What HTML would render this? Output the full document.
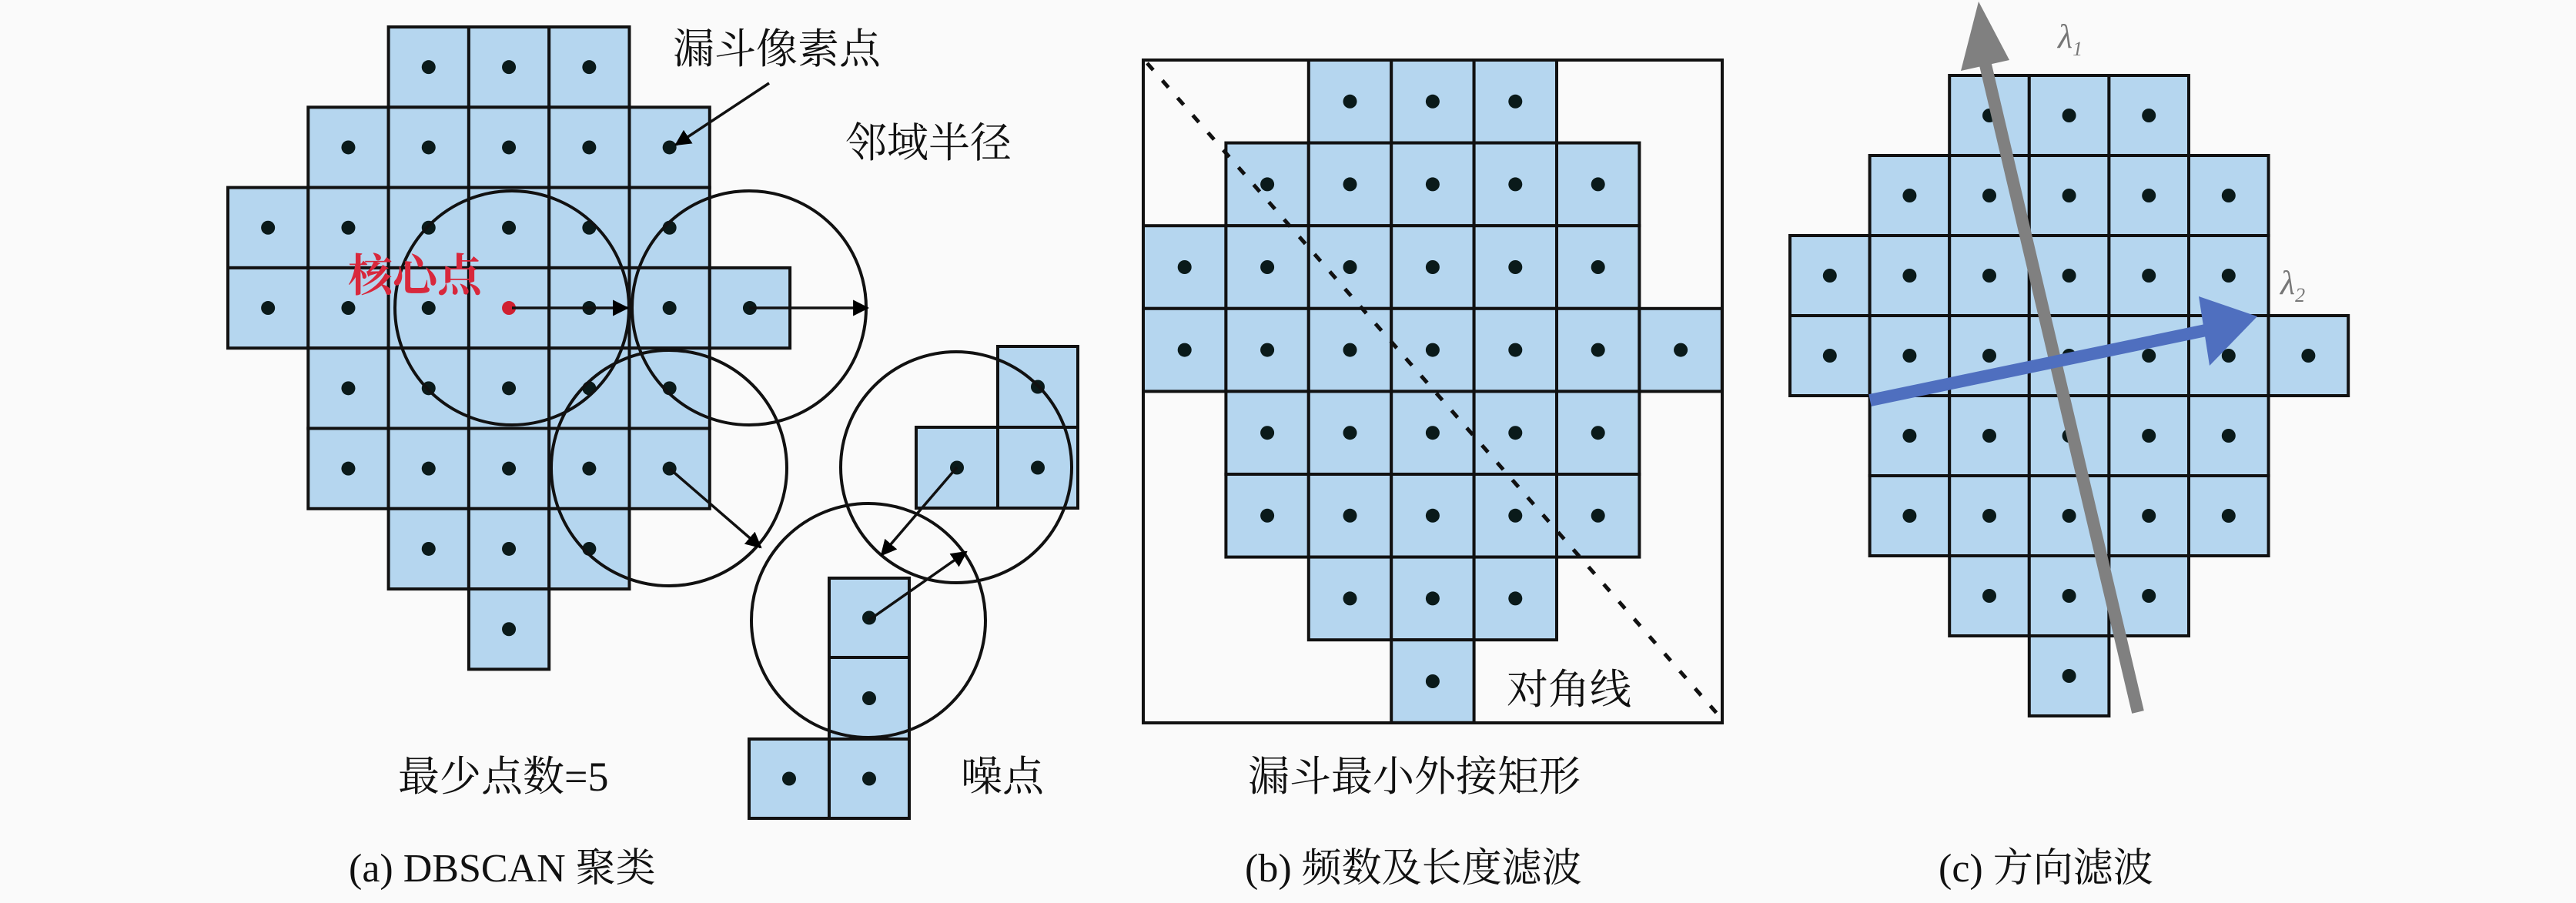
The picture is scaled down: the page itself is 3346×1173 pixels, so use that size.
<!DOCTYPE html>
<html><head><meta charset="utf-8"><style>
html,body{margin:0;padding:0;background:#fafafa;}
svg{display:block}
text{font-family:"Liberation Serif","Noto Serif CJK SC",serif;}
.cjk{font-family:"Noto Serif CJK SC","Liberation Serif",serif;}
</style></head><body>
<svg width="3346" height="1173" viewBox="0 0 3346 1173" xmlns="http://www.w3.org/2000/svg">
<defs>
<marker id="ah" viewBox="0 0 10 10" refX="9" refY="5" markerWidth="6" markerHeight="6" orient="auto"><path d="M0,0 L10,5 L0,10 z" fill="#000"/></marker>
</defs>
<rect width="3346" height="1173" fill="#fafafa"/>
<g id="cells" stroke="#111" stroke-width="4" fill="#b5d6ef"></g>
<g id="dots" fill="#0a1a1a"></g>
<g id="over"></g>
<script>
var NS="http://www.w3.org/2000/svg";
var cells=document.getElementById('cells'),dots=document.getElementById('dots'),over=document.getElementById('over');
var shape=[[2,4],[1,5],[0,5],[0,6],[1,5],[1,5],[2,4],[3,3]];
function el(p,t,a){var e=document.createElementNS(NS,t);for(var k in a)e.setAttribute(k,a[k]);p.appendChild(e);return e;}
function cell(x,y,w,h,red){el(cells,'rect',{x:x,y:y,width:w,height:h});el(dots,'circle',{cx:x+w/2,cy:y+h/2,r:9,fill:red?'#d02030':'#0a1a1a'});}
function grid(x0,y0,w,h,skipRed){for(var r=0;r<8;r++)for(var c=shape[r][0];c<=shape[r][1];c++)cell(x0+c*w,y0+r*h,w,h,skipRed&&r==3&&c==3);}
el(cells,'rect',{x:1485,y:78,width:752,height:861,fill:'none'});
grid(296,35,104.3,104.3,true);
grid(1485,78,107.4,107.6,false);
grid(2325,98,103.6,104,false);
cell(1296,450,104,105);cell(1190,555,106,105);cell(1296,555,104,105);
cell(1077,751,104,103);cell(1077,854,104,106);cell(1077,960,104,103);cell(973,960,104,103);
[[665,400,152],[973,400,152],[869,608,153],[1242,607,150],[1128,806,152]].forEach(function(c){el(over,'circle',{cx:c[0],cy:c[1],r:c[2],fill:'none',stroke:'#111','stroke-width':4});});
[[665,400,815,400],[973,400,1127,400],[870,609,988,711],[1243,607,1145,721],[1128,806,1255,717],[999,108,878,188]].forEach(function(a){el(over,'line',{x1:a[0],y1:a[1],x2:a[2],y2:a[3],stroke:'#111','stroke-width':3.5,'marker-end':'url(#ah)'});});
el(over,'line',{x1:1490,y1:82,x2:2233,y2:930,stroke:'#111','stroke-width':5,'stroke-dasharray':'12,18'});
el(over,'line',{x1:2777,y1:925,x2:2578,y2:80,stroke:'#808080','stroke-width':16});
el(over,'polygon',{points:'2570,2 2610,78 2547,92',fill:'#808080'});
el(over,'line',{x1:2429,y1:520,x2:2870,y2:428,stroke:'#4f6fbf','stroke-width':16});
el(over,'polygon',{points:'2932,411 2856,385 2870,475',fill:'#4f6fbf'});
</script>
<text class="cjk" x="874" y="82" font-size="54" fill="#111">漏斗像素点</text>
<text class="cjk" x="1098" y="204" font-size="54" fill="#111">邻域半径</text>
<text x="452" y="378" font-size="58" font-weight="bold" fill="#d8283c" font-family="Liberation Sans,Noto Sans CJK SC,sans-serif">核心点</text>
<text x="517" y="1027" font-size="54" fill="#111">最少点数=5</text>
<text class="cjk" x="1248" y="1027" font-size="54" fill="#111">噪点</text>
<text class="cjk" x="1957" y="914" font-size="54" fill="#111">对角线</text>
<text class="cjk" x="1621" y="1027" font-size="54" fill="#111">漏斗最小外接矩形</text>
<text x="453" y="1145" font-size="52" fill="#111">(a) DBSCAN 聚类</text>
<text x="1617" y="1145" font-size="52" fill="#111">(b) 频数及长度滤波</text>
<text x="2518" y="1145" font-size="52" fill="#111">(c) 方向滤波</text>
<text x="2673" y="62" font-size="44" fill="#777" font-style="italic">λ<tspan font-size="26" dy="10">1</tspan></text>
<text x="2962" y="382" font-size="44" fill="#777" font-style="italic">λ<tspan font-size="26" dy="10">2</tspan></text>
</svg>
</body></html>
